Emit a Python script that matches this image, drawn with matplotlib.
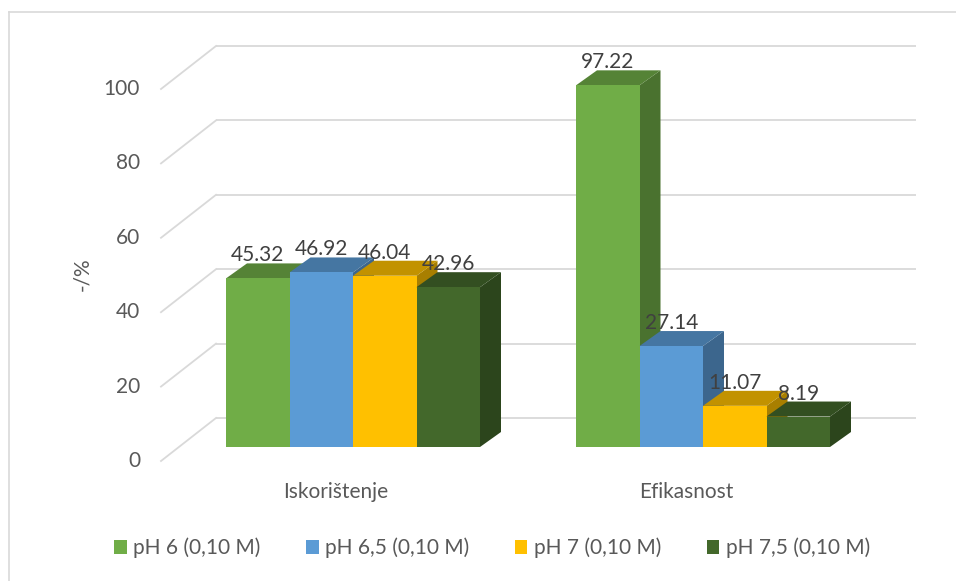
import matplotlib
matplotlib.use("Agg")
import matplotlib.pyplot as plt
from matplotlib.patches import Polygon, Patch
import matplotlib.colors as mcolors

# ---------------- data ----------------
categories = ["Iskorištenje", "Efikasnost"]
series_names = ["pH 6 (0,10 M)", "pH 6,5 (0,10 M)", "pH 7 (0,10 M)", "pH 7,5 (0,10 M)"]
values = [
    [45.32, 97.22],   # pH 6
    [46.92, 27.14],   # pH 6,5
    [46.04, 11.07],   # pH 7
    [42.96, 8.19],    # pH 7,5
]
colors = ["#70AD47", "#5B9BD5", "#FFC000", "#43682B"]
yticks = [0, 20, 40, 60, 80, 100]
ylabel = "-/%"

# ---------------- layout ----------------
W, H = 956, 581
plt.rcParams['font.family'] = ['Lato', 'DejaVu Sans']
fig = plt.figure(figsize=(W / 100, H / 100), dpi=100)
ax = fig.add_axes([0, 0, 1, 1])
ax.set_axis_off()

PX_PER_CAT = 350.0      # pixels per category unit
PX_PER_VAL = 3.72       # pixels per value unit
X0 = 353.0              # pixel x of category 0 center (bar front plane)
Y0 = H - 447.0          # pixel y (from bottom) of value 0 on bar front plane
ax.set_xlim(-X0 / PX_PER_CAT, (W - X0) / PX_PER_CAT)
ax.set_ylim(-Y0 / PX_PER_VAL, (H - Y0) / PX_PER_VAL)

def dxc(px):
    return px / PX_PER_CAT

def dyv(px):
    return px / PX_PER_VAL

def xc(px):
    return (px - X0) / PX_PER_CAT

grid_col = "#D9D9D9"
# depth offsets
front_dx, front_dy = dxc(-18), dyv(-14)    # front plane relative to bar front
back_dx, back_dy = dxc(37), dyv(29)        # back wall relative to bar front
bar_ddx, bar_ddy = dxc(21), dyv(15)        # bar depth

# gridlines: back wall and left side wall
for v in yticks:
    ax.plot([xc(216), xc(916)], [v + back_dy, v + back_dy], color=grid_col, lw=1.3,
            solid_capstyle='butt', zorder=1)
    ax.plot([xc(161), xc(216)], [v + front_dy, v + back_dy], color=grid_col, lw=1.3,
            zorder=1)
    ax.text(xc(140), v + front_dy, str(v), ha='right', va='center', fontsize=15,
            color="#595959")

ax.text(xc(82), dyv(H - 274 - Y0), ylabel, rotation=90, ha='center', va='center',
        fontsize=15, color="#595959")

def shade(c, f):
    r, g, b = mcolors.to_rgb(c)
    return (r * f, g * f, b * f)

bw = dxc(63.5)
n = len(series_names)
z = 5
for ci in range(len(categories)):
    for si in range(n):
        v = values[si][ci]
        x_l = ci - n / 2 * bw + si * bw
        x_r = x_l + bw
        c = colors[si]
        side = Polygon([(x_r, 0), (x_r + bar_ddx, bar_ddy), (x_r + bar_ddx, v + bar_ddy), (x_r, v)],
                       closed=True, facecolor=shade(c, 0.66), edgecolor='none', zorder=z)
        top = Polygon([(x_l, v), (x_l + bar_ddx, v + bar_ddy), (x_r + bar_ddx, v + bar_ddy), (x_r, v)],
                      closed=True, facecolor=shade(c, 0.76), edgecolor='none', zorder=z)
        front = Polygon([(x_l, 0), (x_r, 0), (x_r, v), (x_l, v)], closed=True,
                        facecolor=c, edgecolor='none', zorder=z)
        for p in (side, top, front):
            ax.add_patch(p)
        z += 1

for ci in range(len(categories)):
    for si in range(n):
        v = values[si][ci]
        x_mid = ci - n / 2 * bw + (si + 0.5) * bw
        ax.text(x_mid, v + dyv(17), f"{v:.2f}", ha='center', va='baseline', fontsize=15,
                color="#404040", zorder=100)

for ci, cat in enumerate(categories):
    ax.text(ci + dxc(-17), dyv(H - 492 - Y0), cat, ha='center', va='center', fontsize=15,
            color="#595959")

# chart border (top & left edges visible)
ax.plot([xc(8.5), xc(W + 5)], [dyv(H - 11.5 - Y0)] * 2, color=grid_col, lw=1.2, zorder=0)
ax.plot([xc(8.5), xc(8.5)], [dyv(H - 11.5 - Y0), dyv(-5 - Y0)], color=grid_col, lw=1.2, zorder=0)

handles = [Patch(facecolor=c, edgecolor='none', label=s) for c, s in zip(colors, series_names)]
leg = ax.legend(handles=handles, loc='center', bbox_to_anchor=(492 / W, 1 - 548 / H),
                ncol=4, frameon=False, fontsize=15, handlelength=0.6, handleheight=0.6,
                handletextpad=0.3, columnspacing=2.2, labelcolor="#595959",
                bbox_transform=fig.transFigure)

fig.savefig("out.png", dpi=100)
